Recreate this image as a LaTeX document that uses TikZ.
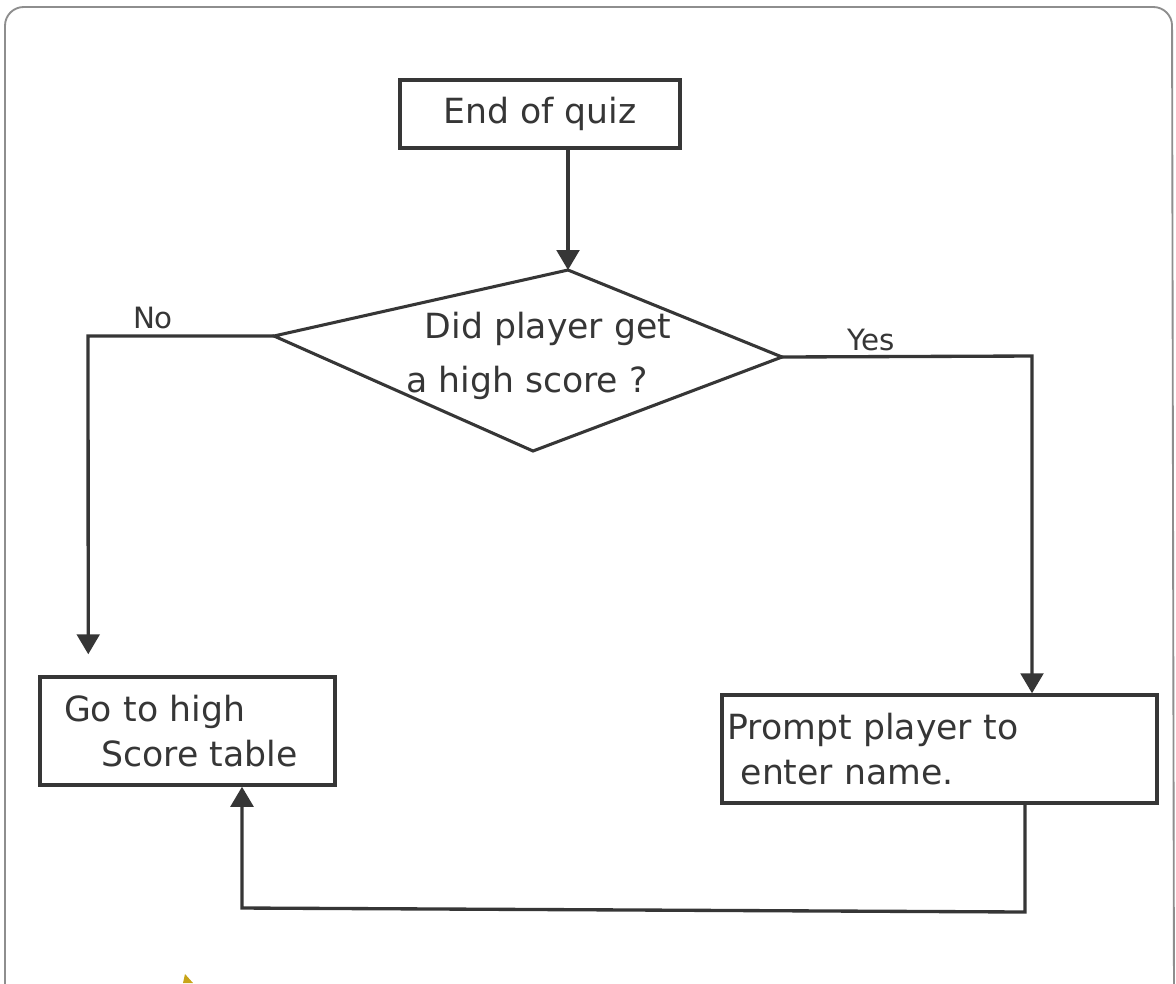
\documentclass[tikz,border=0pt]{standalone}
\usepackage{fontspec}
\setmainfont{DejaVu Sans}
\usetikzlibrary{arrows.meta,calc}
\definecolor{ink}{HTML}{363636}
\definecolor{framecol}{HTML}{8E8E8E}
\definecolor{markcol}{HTML}{C8A418}
\begin{document}
\begin{tikzpicture}[x=0.75pt,y=-0.75pt,
  line width=2.5pt, draw=ink,
  box/.style={draw=ink, line width=2.6pt, rectangle, inner sep=0pt, font=\fontsize{26}{34}\selectfont, text=ink},
  lbl/.style={font=\fontsize{22}{24}\selectfont, text=ink, inner sep=0pt},
  conn/.style={draw=ink, line width=2.5pt},
  arr/.style={conn, -{Triangle[width=17pt,length=15pt]}}
]
\useasboundingbox (0,0) rectangle (1176,983);
\fill[white] (0,0) rectangle (1176,983);
% page frame
\begin{scope}
\clip (0,0) rectangle (1176,983);
\draw[framecol, line width=1.4pt, rounded corners=14pt] (5,1010) -- (5,7) -- (1172,7) -- (1174,1010);
\end{scope}

% nodes
\node[box, minimum width=280*0.75pt, minimum height=68*0.75pt] (start) at (540,114) {End of quiz};

\coordinate (dT) at (568,270);
\coordinate (dR) at (782,357);
\coordinate (dB) at (533,451);
\coordinate (dL) at (274,336);
\draw[ink, line width=2.3pt, line join=miter] (dT) -- (dR) -- (dB) -- (dL) -- cycle;
\node[font=\fontsize{26}{44}\selectfont, text=ink, align=left, inner sep=0pt] (q) at (548,356) {Did player get\\[-4pt]\hspace{-14pt}a high score ?};

\node[box, minimum width=295*0.75pt, minimum height=108*0.75pt, text width=295*0.75pt-36pt, align=left] (go) at (187.5,731) {Go to high\\\hspace{28pt}Score table};
\node[box, minimum width=435*0.75pt, minimum height=108*0.75pt, text width=435*0.75pt-8pt, align=left] (prompt) at (939.5,749) {Prompt player to\\\hspace{10pt}enter name.};

% labels
\node[lbl] (no) at (153,318) {No};
\node[lbl] (yes) at (871,340) {Yes};

% connectors
\draw[arr] (start.south -| dT) -- (dT);
\coordinate (noCorner) at (88,336);
\draw[arr, shorten >=21pt*0.75] (dL) -- (noCorner) -- ($(go.north west)+(50,0)$);
\coordinate (yesCorner) at (1032,356);
\draw[arr] (dR) -- (yesCorner) -- (yesCorner |- prompt.north);
\coordinate (r1) at (1025,912);
\coordinate (r2) at (242,908);
\draw[arr] (prompt.south -| r1) -- (r1) -- (r2) -- (r2 |- go.south);

% small yellow mark
\fill[markcol] (185,974) -- (193,983) -- (183,983) -- cycle;
\end{tikzpicture}
\end{document}
